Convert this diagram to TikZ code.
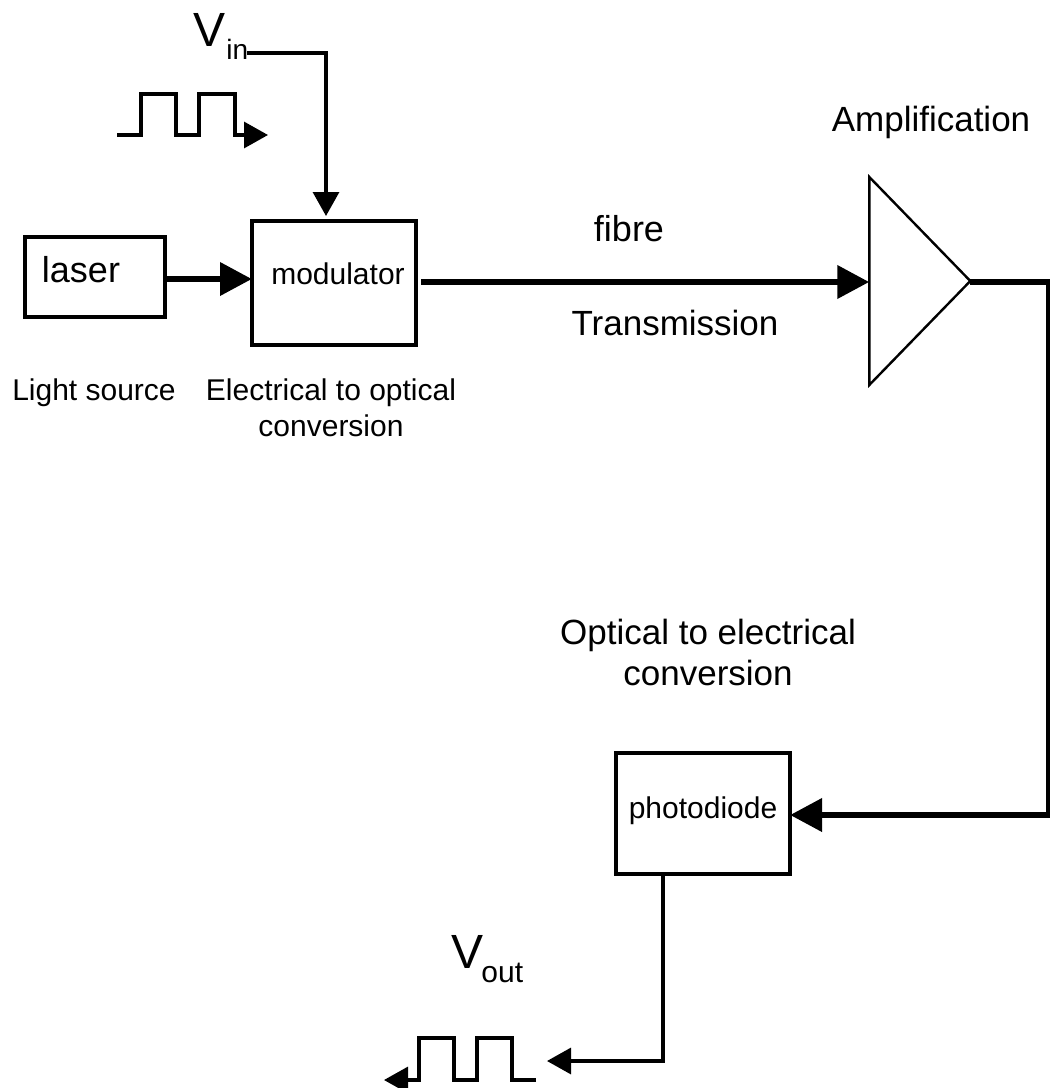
\documentclass[tikz,border=0pt]{standalone}
\usepackage{fontspec}
\setmainfont{Liberation Sans}
\usetikzlibrary{arrows.meta,shapes.geometric}
\newcommand{\fsize}[1]{\fontsize{#1pt}{#1pt}\selectfont}
\tikzset{
  blockbox/.style={draw, line width=1.6pt, inner sep=0pt, outer sep=0pt, minimum width=#1},
  thickline/.style={line width=3.4pt},
  fibrearrow/.style={thickline, -{Triangle[length=16pt,width=16pt]}},
  thinarrow/.style={line width=1.6pt, -{Triangle[length=12pt,width=13pt]}},
  biglabel/.style={inner sep=0pt, anchor=base, align=center, font=\fsize{17.5}},
  smalllabel/.style={inner sep=0pt, anchor=base, align=center, font=\fsize{15}}
}
\begin{document}
\begin{tikzpicture}[x=0.5pt,y=-0.5pt]
\useasboundingbox (0,0) rectangle (1050,1088);

% Blocks
\node[blockbox=70pt, minimum height=40pt] (laser) at (95,277) {};
\node[blockbox=82pt, minimum height=62pt] (modulator) at (334,283) {};
\node[blockbox=87pt, minimum height=60.5pt] (photodiode) at (703,813.5) {};
\node[draw, line width=1.2pt, inner sep=0pt, outer sep=0pt, isosceles triangle, isosceles triangle apex angle=92,
  isosceles triangle stretches, minimum width=104pt, minimum height=50.5pt] (amp) at (911.5,281) {};
\node[biglabel, font=\fsize{18}] (laserlabel) at (81,282) {laser};
\node[smalllabel] (modlabel) at (338,284) {modulator};
\node[smalllabel] (pdlabel) at (703,818) {photodiode};

% Optical path
\coordinate (corner1) at (1049,282);
\coordinate (corner2) at (1049,815);
\coordinate (fibrestart) at (421,282);
\draw[fibrearrow] (laser.east |- 0,279) -- (modulator.west |- 0,279);
\draw[fibrearrow] (fibrestart) -- (amp.west |- fibrestart);
\draw[fibrearrow] (amp.east |- corner1) -- (corner1) -- (corner2) -- (photodiode.east |- corner2);

% Electrical in
\coordinate (vinend) at (247,53);
\coordinate (vincorner) at (326,53);
\draw[thinarrow] (vinend) -- (vincorner) -- (326,216);
\node[inner sep=0pt, anchor=base west, font=\fsize{24}] (vinlabel) at (193,46) {V};
\node[inner sep=0pt, anchor=base west, font=\fsize{14}] (vinsub) at (226,59) {in};
\coordinate (pulsein) at (117,135);
\coordinate (pulseintip) at (268,135);
\draw[thinarrow] (pulsein) -- (141,135) -- (141,94) -- (176,94) -- (176,135) -- (199,135)
  -- (199,94) -- (235,94) -- (235,135) -- (pulseintip);

% Electrical out
\coordinate (voutcorner) at (663,1061);
\coordinate (pulsegap) at (547,1061);
\draw[thinarrow] (photodiode.south -| voutcorner) -- (voutcorner) -- (pulsegap);
\node[inner sep=0pt, anchor=base west, font=\fsize{24}] (voutlabel) at (451,968) {V};
\node[inner sep=0pt, anchor=base west, font=\fsize{15}] (voutsub) at (481,982) {out};
\coordinate (pulseout) at (536,1080);
\coordinate (pulseouttip) at (384,1080);
\draw[thinarrow] (pulseout) -- (512,1080) -- (512,1038) -- (477,1038) -- (477,1080) -- (454,1080)
  -- (454,1038) -- (419,1038) -- (419,1080) -- (pulseouttip);

% Labels
\node[biglabel] (amplabel) at (931,131) {Amplification};
\node[biglabel, font=\fsize{18}] (fibrelabel) at (629,241) {fibre};
\node[biglabel] (translabel) at (675,335) {Transmission};
\node[smalllabel] (lightlabel) at (94,400) {Light source};
\node[smalllabel] (eolabel) at (331,400) {Electrical to optical};
\node[smalllabel] (eolabel2) at (331,436) {conversion};
\node[biglabel] (oelabel) at (708,644) {Optical to electrical};
\node[biglabel] (oelabel2) at (708,685) {conversion};
\end{tikzpicture}
\end{document}
